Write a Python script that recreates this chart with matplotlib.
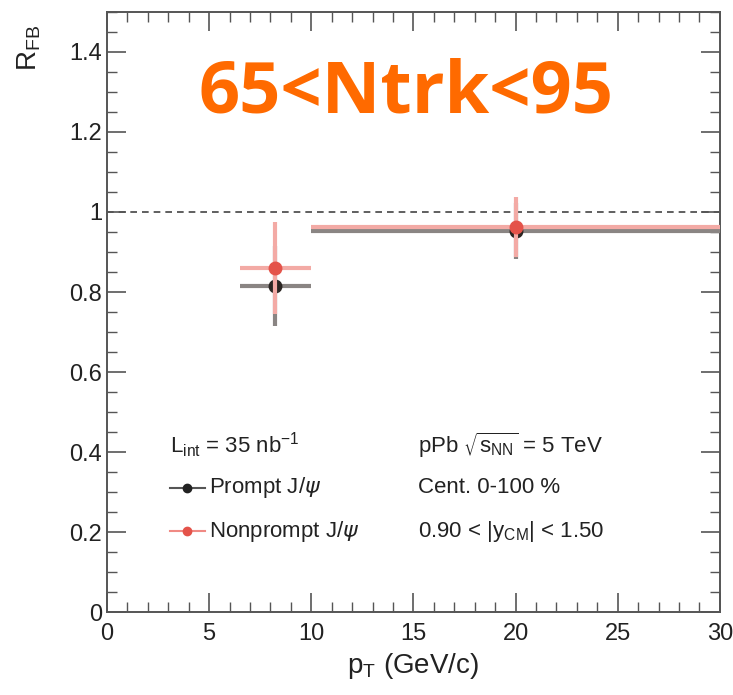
import matplotlib.pyplot as plt
from matplotlib.ticker import MultipleLocator

plt.rcParams['font.family'] = ['Liberation Sans', 'DejaVu Sans']

# data
pt_prompt = [8.2, 20.0]
pt_lo_prompt = [6.5, 10.0]
pt_hi_prompt = [10.0, 30.0]
rfb_prompt = [0.815, 0.952]
err_prompt = [0.10, 0.07]

pt_nonprompt = [8.2, 20.0]
pt_lo_nonprompt = [6.5, 10.0]
pt_hi_nonprompt = [10.0, 30.0]
rfb_nonprompt = [0.86, 0.962]
err_nonprompt = [0.115, 0.075]

xerr_p = [[p - l for p, l in zip(pt_prompt, pt_lo_prompt)],
          [h - p for p, h in zip(pt_prompt, pt_hi_prompt)]]
xerr_n = [[p - l for p, l in zip(pt_nonprompt, pt_lo_nonprompt)],
          [h - p for p, h in zip(pt_nonprompt, pt_hi_nonprompt)]]

fig = plt.figure(figsize=(7.33, 6.95), dpi=100)
ax = fig.add_axes([0.146, 0.119, 0.836, 0.864])

ax.axhline(1.0, color='#444444', linestyle=(0, (4, 3)), linewidth=1.2, zorder=1)

ax.errorbar(pt_prompt, rfb_prompt, xerr=xerr_p, yerr=err_prompt, fmt='o',
            color='#2a2522', ecolor='#8a8583', elinewidth=3, markersize=9,
            capsize=0, zorder=3)
ax.errorbar(pt_nonprompt, rfb_nonprompt, xerr=xerr_n, yerr=err_nonprompt, fmt='o',
            color='#e4534a', ecolor='#f3aaa5', elinewidth=3, markersize=9,
            capsize=0, zorder=4)

ax.set_xlim(0, 30)
ax.set_ylim(0, 1.5)
ax.xaxis.set_major_locator(MultipleLocator(5))
ax.xaxis.set_minor_locator(MultipleLocator(1))
ax.yaxis.set_minor_locator(MultipleLocator(0.05))
ax.set_yticks([0, 0.2, 0.4, 0.6, 0.8, 1.0, 1.2, 1.4])
ax.set_yticklabels(['0', '0.2', '0.4', '0.6', '0.8', '1', '1.2', '1.4'])
ax.tick_params(which='both', direction='in', top=True, right=True,
               color='#555555', labelsize=17, labelcolor='#222222')
ax.tick_params(which='major', length=14, width=1.2)
ax.tick_params(which='minor', length=7, width=1.0)
ax.tick_params(axis='x', pad=8)
for s in ax.spines.values():
    s.set_color('#555555')
    s.set_linewidth(1.4)

ax.set_xlabel(r'p$_{\mathregular{T}}$ (GeV/c)', fontsize=20, color='#222222')
ax.set_ylabel(r'R$_{\mathregular{FB}}$', fontsize=20, color='#222222')
ax.yaxis.set_label_coords(-0.105, 0.94)

# legend-like annotations
ax.text(0.103, 0.278, r'L$_{\mathregular{int}}$ = 35 nb$^{\mathregular{-1}}$', transform=ax.transAxes,
        fontsize=16, color='#222222', va='center')
ax.plot([0.103, 0.160], [0.207, 0.207], transform=ax.transAxes, color='#555555', lw=1.5)
ax.plot([0.131], [0.207], 'o', transform=ax.transAxes, color='#222222', ms=6)
ax.text(0.167, 0.207, r'Prompt J/$\psi$', transform=ax.transAxes,
        fontsize=16, color='#222222', va='center')
ax.plot([0.103, 0.160], [0.135, 0.135], transform=ax.transAxes, color='#f08a84', lw=1.5)
ax.plot([0.131], [0.135], 'o', transform=ax.transAxes, color='#e4534a', ms=6)
ax.text(0.167, 0.135, r'Nonprompt J/$\psi$', transform=ax.transAxes,
        fontsize=16, color='#222222', va='center')

ax.text(0.507, 0.278, r'pPb $\sqrt{\mathregular{s}_{\mathregular{NN}}}$ = 5 TeV', transform=ax.transAxes,
        fontsize=16, color='#222222', va='center')
ax.text(0.507, 0.207, 'Cent. 0-100 %', transform=ax.transAxes,
        fontsize=16, color='#222222', va='center')
ax.text(0.507, 0.135, r'0.90 < |y$_{\mathregular{CM}}$| < 1.50', transform=ax.transAxes,
        fontsize=16, color='#222222', va='center')

ax.text(0.488, 0.833, '65<Ntrk<95', transform=ax.transAxes, fontsize=52,
        fontweight='bold', color='#ff6a00', ha='center', va='baseline',
        family=['Open Sans', 'DejaVu Sans'])

plt.savefig('out.png', dpi=100)
plt.close()
